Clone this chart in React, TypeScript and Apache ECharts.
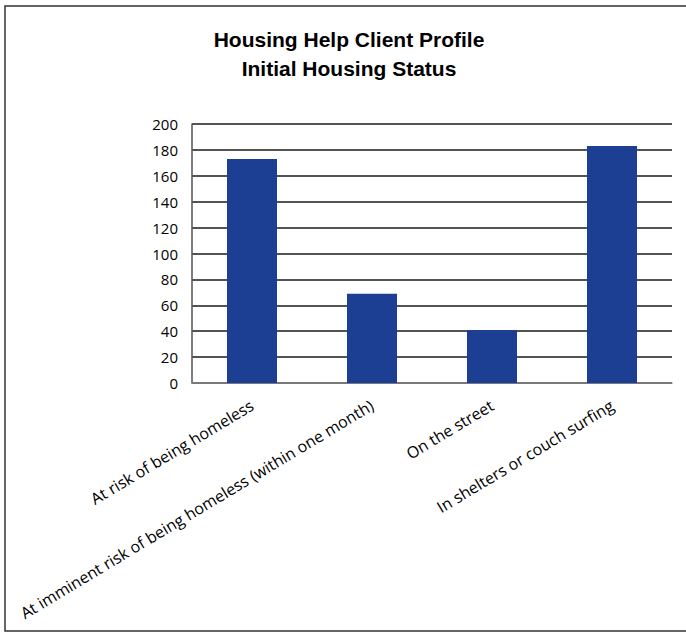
import React, { useEffect, useRef } from "react";
import * as echarts from "echarts";

const categories = [
  "At risk of being homeless",
  "At imminent risk of being homeless (within one month)",
  "On the street",
  "In shelters or couch surfing",
];
const values = [173, 69, 41, 183];
const titleLines = ["Housing Help Client Profile", "Initial Housing Status"];

export default function App() {
  const ref = useRef<HTMLDivElement>(null);
  useEffect(() => {
    if (!ref.current) return;
    const chart = echarts.init(ref.current, null, { renderer: "svg" });
    chart.setOption({
      animation: false,
      backgroundColor: "#ffffff",
      title: {
        text: titleLines.join("\n"),
        left: 344,
        textAlign: "center",
        top: 20,
        textStyle: {
          fontFamily: "Liberation Sans, Arial, sans-serif",
          fontWeight: "bold",
          fontSize: 21,
          lineHeight: 29,
          color: "#000",
        },
      },
      graphic: [
        {
          type: "rect",
          shape: { x: 5, y: 6, width: 700, height: 625 },
          style: { fill: "none", stroke: "#333", lineWidth: 1.5 },
          silent: true,
          z: -1,
        },
      ],
      grid: { left: 192, right: 14, top: 124, bottom: 250, containLabel: false },
      xAxis: {
        type: "category",
        data: categories,
        axisLine: { show: true, lineStyle: { color: "#868686", width: 1.5 } },
        axisTick: { show: false },
        axisLabel: {
          rotate: 31,
          interval: 0,
          margin: 21,
          fontFamily: "Open Sans, sans-serif",
          fontSize: 16,
          color: "#000",
        },
      },
      yAxis: {
        type: "value",
        min: 0,
        max: 200,
        interval: 20,
        axisLine: { show: true, lineStyle: { color: "#555", width: 1.5 } },
        axisTick: { show: false },
        axisLabel: {
          margin: 14,
          fontFamily: "Open Sans, sans-serif",
          fontSize: 15,
          color: "#000",
        },
        splitLine: { show: true, lineStyle: { color: "#1a1a1a", width: 1.5 } },
      },
      series: [
        {
          type: "bar",
          data: values,
          barWidth: 50,
          itemStyle: { color: "#1C3F94" },
        },
      ],
    });
    return () => chart.dispose();
  }, []);
  return (
    <div
      ref={ref}
      style={{ position: "fixed", left: 0, top: 0, width: 686, height: 633 }}
    />
  );
}
